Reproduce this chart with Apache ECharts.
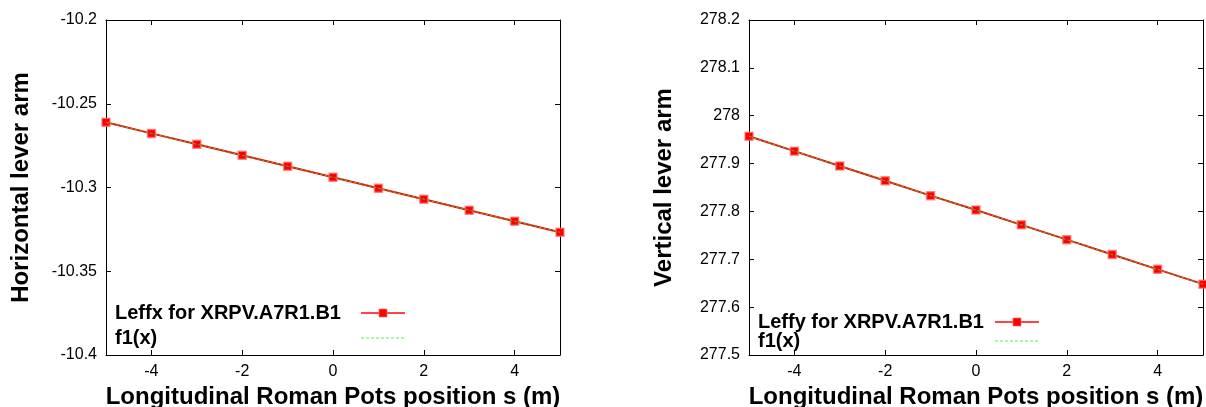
<!DOCTYPE html>
<html>
<head>
<meta charset="utf-8">
<script src="https://cdn.jsdelivr.net/npm/echarts@6/dist/echarts.min.js"></script>
<style>
html,body{margin:0;padding:0;background:#fff;}
#chart{width:1206px;height:407px;}
</style>
</head>
<body>
<div id="chart"></div>
<script>
// ---- data ----
const sPositions = [-5, -4, -3, -2, -1, 0, 1, 2, 3, 4, 5];
const leffx = [-10.2611, -10.2677, -10.2742, -10.2808, -10.2873, -10.2939, -10.3005, -10.3070, -10.3136, -10.3201, -10.3267];
const f1x   = [-10.2611, -10.2677, -10.2742, -10.2808, -10.2873, -10.2939, -10.3005, -10.3070, -10.3136, -10.3201, -10.3267];
const leffy = [277.957, 277.926, 277.895, 277.864, 277.833, 277.803, 277.772, 277.741, 277.710, 277.679, 277.648];
const f1y   = [277.957, 277.926, 277.895, 277.864, 277.833, 277.803, 277.772, 277.741, 277.710, 277.679, 277.648];
const xTicks = [-4, -2, 0, 2, 4];
const yTicksH = [-10.4, -10.35, -10.3, -10.25, -10.2];
const yTicksV = [277.5, 277.6, 277.7, 277.8, 277.9, 278, 278.1, 278.2];
const nameLeffx = 'Leffx for XRPV.A7R1.B1';
const nameLeffy = 'Leffy for XRPV.A7R1.B1';
const nameF1 = 'f1(x)';
const xTitle = 'Longitudinal Roman Pots position s (m)';
const yTitleH = 'Horizontal lever arm';
const yTitleV = 'Vertical lever arm';

// ---- styles ----
const FONT = '"Liberation Sans", Arial, sans-serif';
const axisLineStyle = {show: true, onZero: false, lineStyle: {color: '#000', width: 1}};
const tickStyle = {show: true, inside: true, length: 5, lineStyle: {color: '#000', width: 1}};
const labelStyle = {color: '#000', fontSize: 16, fontFamily: FONT};
const titleStyle = {color: '#000', fontSize: 24, fontWeight: 'bold', fontFamily: FONT};

function pair(a, b) { return a.map((v, i) => [v, b[i]]); }

function xAxes(gi) {
  return [
    {type: 'value', gridIndex: gi, min: -5, max: 5, position: 'bottom',
     axisLine: axisLineStyle, splitLine: {show: false},
     axisTick: Object.assign({customValues: xTicks}, tickStyle),
     axisLabel: Object.assign({customValues: xTicks, margin: 9}, labelStyle),
     name: xTitle, nameLocation: 'middle', nameGap: 20, nameTextStyle: titleStyle},
    {type: 'value', gridIndex: gi, min: -5, max: 5, position: 'top',
     axisLine: axisLineStyle, splitLine: {show: false},
     axisTick: Object.assign({customValues: xTicks}, tickStyle),
     axisLabel: {show: false}}
  ];
}
function yAxes(gi, mn, mx, ticks, title) {
  return [
    {type: 'value', gridIndex: gi, min: mn, max: mx, position: 'left',
     axisLine: axisLineStyle, splitLine: {show: false},
     axisTick: Object.assign({customValues: ticks}, tickStyle),
     axisLabel: Object.assign({customValues: ticks, margin: 9}, labelStyle),
     name: title, nameLocation: 'middle', nameGap: 73, nameTextStyle: titleStyle},
    {type: 'value', gridIndex: gi, min: mn, max: mx, position: 'right',
     axisLine: axisLineStyle, splitLine: {show: false},
     axisTick: Object.assign({customValues: ticks}, tickStyle),
     axisLabel: {show: false}}
  ];
}

function dataSeries(name, data, xi, yi) {
  return {type: 'line', name: name, xAxisIndex: xi, yAxisIndex: yi, data: data,
    symbol: 'rect', symbolSize: 8, z: 3,
    itemStyle: {color: '#ff0000', borderColor: 'rgba(255,110,110,0.7)', borderWidth: 1.5},
    lineStyle: {color: '#ff0000', width: 2}, animation: false};
}
function fitSeries(name, data, xi, yi) {
  return {type: 'line', name: name, xAxisIndex: xi, yAxisIndex: yi, data: data,
    symbol: 'none', showSymbol: false, z: 4,
    itemStyle: {color: '#3fcf3f'},
    lineStyle: {color: '#3fbf2f', width: 1, type: [3, 2]}, animation: false};
}
function legend(left, top, gap, nameA, textW) {
  return {
    left: left, top: top, orient: 'vertical', align: 'right', padding: 0,
    itemWidth: 44, itemHeight: 10, itemGap: gap,
    selectedMode: false,
    formatter: n => '{t|' + n + '}',
    textStyle: {fontSize: 20, fontWeight: 'bold', fontFamily: FONT, color: '#000', lineHeight: 20,
      rich: {t: {width: textW, align: 'left', fontSize: 20, fontWeight: 'bold', fontFamily: FONT, color: '#000', lineHeight: 20}}},
    data: [
      {name: nameA, itemStyle: {color: '#ff0000', borderColor: 'rgba(255,110,110,0.7)', borderWidth: 1}, lineStyle: {color: '#ff4444', width: 2}},
      {name: nameF1, itemStyle: {opacity: 0}, lineStyle: {color: '#55ee55', width: 1, type: [3, 2]}}
    ]
  };
}

const chart = echarts.init(document.getElementById('chart'), null, {renderer: 'canvas'});
chart.setOption({
  animation: false,
  backgroundColor: '#fff',
  grid: [
    {left: 106, top: 20, width: 454, height: 335, outerBoundsMode: 'none', containLabel: false},
    {left: 749, top: 20, width: 454, height: 335, outerBoundsMode: 'none', containLabel: false}
  ],
  xAxis: xAxes(0).concat(xAxes(1)),
  yAxis: yAxes(0, -10.4, -10.2, yTicksH, yTitleH).concat(yAxes(1, 277.5, 278.2, yTicksV, yTitleV)),
  legend: [
    legend(115, 303, 5, nameLeffx, 241),
    legend(758, 312, -1, nameLeffy, 232)
  ],
  series: [
    dataSeries(nameLeffx, pair(sPositions, leffx), 0, 0),
    fitSeries(nameF1, pair(sPositions, f1x), 0, 0),
    dataSeries(nameLeffy, pair(sPositions, leffy), 2, 2),
    fitSeries(nameF1, pair(sPositions, f1y), 2, 2)
  ]
});
</script>
</body>
</html>
